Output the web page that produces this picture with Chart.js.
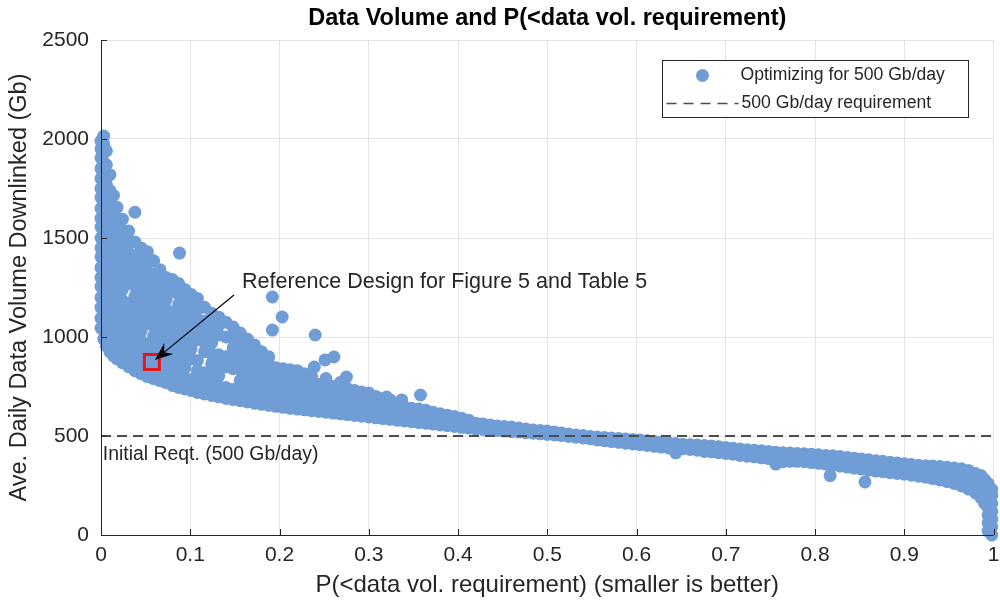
<!DOCTYPE html>
<html lang="en">
<head>
<meta charset="UTF-8">
<title>Data Volume and P(&lt;data vol. requirement)</title>
<style>
    html, body { margin: 0; padding: 0; background: #fff; }
</style>
</head>
<body>
<canvas id="myChart" width="1000" height="603"></canvas>

<script src="https://cdn.jsdelivr.net/npm/chart.js"></script>
<script>
// tick labels
const xTickLabels = ['0','0.1','0.2','0.3','0.4','0.5','0.6','0.7','0.8','0.9','1']
const yTickLabels = ['0','500','1000','1500','2000','2500']

// designs, one column of volumes per P value
const spikeCols = [
    [0.000,[1045,1095,1150,1200,1255,1300,1350,1405,1450,1500,1555,1600,1650,1705,1750,1800,1850,1905,1950,1990]],
    [0.003,[990,1040,1120,1180,1230,1290,1330,1380,1440,1490,1530,1580,1640,1690,1730,1780,1830,1880,1930,1975,2015]],
    [0.006,[955,1005,1060,1110,1170,1220,1270,1320,1370,1420,1470,1520,1570,1620,1675,1720,1770,1820,1870,1940]],
    [0.010,[925,980,1030,1090,1140,1190,1245,1290,1340,1395,1445,1490,1540,1590,1640,1690,1740,1820]],
    [0.014,[905,960,1010,1065,1115,1170,1215,1265,1320,1370,1420,1470,1515,1565,1610,1660,1715]],
    [0.018,[890,940,995,1045,1100,1150,1200,1250,1300,1350,1400,1455,1500,1550,1600,1655]]
]
const kneeCols = [
    [0.024,[870,925,975,1030,1080,1135,1185,1240,1290,1340,1390,1440,1490,1540,1595]],
    [0.031,[850,905,960,1010,1065,1115,1170,1275,1325,1375,1425,1475,1535]],
    [0.038,[830,885,940,995,1045,1100,1150,1205,1255,1305,1360,1410,1480]],
    [0.045,[815,870,925,980,1030,1085,1135,1185,1240,1290,1340,1395,1450]],
    [0.052,[800,855,910,965,1070,1120,1175,1225,1280,1330,1380,1430]],
    [0.059,[790,845,900,950,1005,1055,1110,1160,1215,1265,1320,1385]],
    [0.066,[780,835,885,940,990,1045,1095,1150,1200,1255,1300,1340]],
    [0.073,[770,825,875,930,980,1035,1085,1140,1190,1240,1300]],
    [0.080,[755,810,865,915,970,1020,1075,1125,1230,1290]],
    [0.087,[745,800,855,905,960,1010,1065,1115,1165,1215,1270]],
    [0.094,[738,790,845,900,950,1005,1055,1110,1160,1205,1240]],
    [0.101,[730,785,890,940,995,1045,1100,1150,1215]],
    [0.108,[720,775,830,880,985,1040,1090,1140,1195]],
    [0.116,[712,765,820,925,975,1030,1080,1150]],
    [0.124,[705,760,810,865,915,970,1020,1070,1120]],
    [0.132,[698,750,805,855,910,1010,1060,1100]],
    [0.140,[690,745,850,900,1000,1075]],
    [0.148,[684,735,840,890,945,995,1050]],
    [0.156,[678,730,780,835,885,935,985,1020]],
    [0.164,[672,725,775,825,875,930,990]],
    [0.172,[666,718,770,820,870,920,960]],
    [0.180,[660,712,765,815,865,925]],
    [0.188,[655,705,760,810,860,900]],
    [0.196,[650,700,750,800,845]]
]
const shoulderCols = [
    [0.204,[645,695,745,795,840]],
    [0.212,[640,690,740,790,835]],
    [0.220,[636,684,732,780,830]],
    [0.228,[632,680,728,775,815]],
    [0.236,[628,676,722,768,800]],
    [0.244,[624,670,716,760]],
    [0.252,[620,665,710,755,790]],
    [0.260,[616,660,705,750]],
    [0.268,[612,656,700,745,770]],
    [0.276,[608,652,696,740]],
    [0.284,[604,646,690,730]],
    [0.292,[600,642,684,722]],
    [0.300,[596,638,678,710]],
    [0.308,[592,634,672,700]],
    [0.316,[588,628,666,690]],
    [0.324,[584,624,660,682]],
    [0.332,[580,618,652]],
    [0.340,[576,612,646]],
    [0.348,[572,606,640]],
    [0.356,[568,600,636]]
]
const tailCols = [
    [0.364,[565,598,630]],[0.372,[560,590,620]],[0.380,[556,584,612]],[0.388,[552,578,605]],
    [0.396,[548,572,598]],[0.404,[544,566,590]],[0.412,[540,560,580]],[0.420,[536,565]],
    [0.428,[533,560]],[0.436,[530,555]],[0.444,[528,550]],[0.452,[525,548]],
    [0.460,[522,545]],[0.468,[520,540]],[0.476,[517,535]],[0.484,[514,530]],
    [0.492,[511,528]],[0.500,[508,525]],[0.508,[505,520]],[0.516,[502,515]],
    [0.524,[498,510]],[0.532,[494,505]],[0.540,[490,502]],[0.548,[486,498]],
    [0.556,[480,495]],[0.564,[476,492]],[0.572,[472,490]],[0.580,[468,488]],
    [0.588,[464,485]],[0.596,[460,482]],[0.604,[456,480]],[0.612,[452,476]],
    [0.620,[448,472]],[0.628,[444,468]],[0.636,[440,465]],[0.644,[415,445,462]],
    [0.652,[436,458]],[0.660,[432,456]],[0.668,[428,454]],[0.676,[422,452]],
    [0.684,[420,450]],[0.692,[416,446]],[0.700,[412,442]],[0.708,[408,438]],
    [0.716,[402,434]],[0.724,[398,430]],[0.732,[395,428]],[0.740,[390,425]],
    [0.748,[386,422]],[0.756,[358,388,418]],[0.764,[370,394,416]],[0.772,[372,393,414]],
    [0.780,[372,394,412]],[0.788,[370,390,410]],[0.796,[366,388,408]],[0.804,[362,384,405]],
    [0.812,[358,380,402]],[0.820,[352,378,400]],[0.828,[348,373,396]],[0.836,[343,369,392]],
    [0.844,[338,364,388]],[0.852,[333,360,384]],[0.860,[328,355,380]],[0.868,[323,350,375]],
    [0.876,[320,347,372]],[0.884,[315,343,368]],[0.892,[311,339,364]],[0.900,[307,335,360]],
    [0.908,[302,330,356]],[0.916,[297,326,352]],[0.924,[292,322,350]],[0.932,[285,318,348]],
    [0.940,[278,313,346]],[0.948,[270,307,342]],[0.956,[260,300,338]],[0.964,[248,292,334]],
    [0.972,[232,280,326]],[0.980,[212,262,310]],[0.986,[188,245,300]],[0.990,[160,210,250,280]],
    [0.994,[20,60,100,140,180,220,260]],[0.998,[0,40,80,120,160,200,230]]
]
const outliers = [
    [0.038,1630],[0.088,1424],[0.192,1202],[0.203,1101],[0.192,1035],[0.240,1010],
    [0.261,899],[0.251,884],[0.239,848],[0.275,798],[0.300,717],[0.320,697],
    [0.337,682],[0.358,707],[0.817,300],[0.856,268]
]

// 500 Gb/day requirement line
const reqP = [0, 1]
const reqVol = [500, 500]

// annotation anchors (data units)
const refDesign = [0.057, 874]
const arrowStart = [0.149, 1212]
const refLabelAt = [0.158, 1278]
const reqLabelAt = [0.002, 404]

const designs = []
spikeCols.concat(kneeCols, shoulderCols, tailCols).forEach(([p, vols]) => {
    vols.forEach(v => designs.push({x: p, y: v}))
})
outliers.forEach(([p, v]) => designs.push({x: p, y: v}))

const dotColor = 'rgb(112,157,214)'
const textColor = '#262626'
const fontFam = '"Liberation Sans", Arial, sans-serif'

const overlay = {
    id: 'overlay',
    afterDatasetsDraw(chart) {
        const {ctx, chartArea: a, scales: {x, y}} = chart
        ctx.save()
        // axis lines on top of the markers, ticks point inward
        ctx.strokeStyle = textColor
        ctx.lineWidth = 1
        ctx.beginPath()
        ctx.moveTo(a.left + 0.5, a.top)
        ctx.lineTo(a.left + 0.5, a.bottom + 0.5)
        ctx.lineTo(a.right, a.bottom + 0.5)
        x.ticks.forEach(t => {
            const px = Math.round(x.getPixelForValue(t.value)) + 0.5
            ctx.moveTo(px, a.bottom)
            ctx.lineTo(px, a.bottom - 6)
        })
        y.ticks.forEach(t => {
            const py = Math.round(y.getPixelForValue(t.value)) + 0.5
            ctx.moveTo(a.left, py)
            ctx.lineTo(a.left + 6, py)
        })
        ctx.stroke()

        // reference design marker
        const sx = x.getPixelForValue(refDesign[0])
        const sy = y.getPixelForValue(refDesign[1])
        ctx.strokeStyle = '#e8141b'
        ctx.lineWidth = 3
        ctx.strokeRect(sx - 7.5, sy - 7.5, 15, 15)

        // arrow
        const ax = x.getPixelForValue(arrowStart[0])
        const ay = y.getPixelForValue(arrowStart[1])
        const ex = sx + 3, ey = sy - 2
        const ang = Math.atan2(ey - ay, ex - ax)
        const c = Math.cos(ang), s = Math.sin(ang)
        ctx.strokeStyle = '#000'
        ctx.fillStyle = '#000'
        ctx.lineWidth = 1.2
        ctx.beginPath()
        ctx.moveTo(ax, ay)
        ctx.lineTo(ex - 10 * c, ey - 10 * s)
        ctx.stroke()
        ctx.beginPath()
        ctx.moveTo(ex, ey)
        ctx.lineTo(ex - 18 * c + 7 * s, ey - 18 * s - 7 * c)
        ctx.lineTo(ex - 12 * c, ey - 12 * s)
        ctx.lineTo(ex - 18 * c - 7 * s, ey - 18 * s + 7 * c)
        ctx.closePath()
        ctx.fill()

        // text annotations
        ctx.fillStyle = textColor
        ctx.textBaseline = 'middle'
        ctx.textAlign = 'left'
        ctx.font = '21.5px ' + fontFam
        ctx.fillText('Reference Design for Figure 5 and Table 5',
            x.getPixelForValue(refLabelAt[0]), y.getPixelForValue(refLabelAt[1]))
        ctx.font = '19.4px ' + fontFam
        ctx.fillText('Initial Reqt. (500 Gb/day)',
            x.getPixelForValue(reqLabelAt[0]), y.getPixelForValue(reqLabelAt[1]))

        // legend box
        const dsDots = chart.data.datasets[1], dsReq = chart.data.datasets[0]
        const lw = 306, lh = 57
        const lx = Math.round(a.right - lw - 26) + 0.5, ly = Math.round(a.top + 20) + 0.5
        ctx.fillStyle = '#fff'
        ctx.fillRect(lx, ly, lw, lh)
        ctx.strokeStyle = textColor
        ctx.lineWidth = 1
        ctx.strokeRect(lx, ly, lw, lh)
        ctx.fillStyle = dotColor
        ctx.beginPath()
        ctx.arc(lx + 40, ly + 15, 6.5, 0, Math.PI * 2)
        ctx.fill()
        ctx.strokeStyle = dsReq.borderColor
        ctx.lineWidth = 1.5
        ctx.setLineDash([10, 7])
        ctx.beginPath()
        ctx.moveTo(lx + 4, ly + 43)
        ctx.lineTo(lx + 76, ly + 43)
        ctx.stroke()
        ctx.setLineDash([])
        ctx.fillStyle = textColor
        ctx.font = '17.6px ' + fontFam
        ctx.fillText(dsDots.label, lx + 78, ly + 15)
        ctx.fillText(dsReq.label, lx + 79, ly + 43)
        ctx.restore()
    }
}

new Chart(document.getElementById('myChart'), {
    type: 'scatter',
    data: {
        datasets: [
            {
                type: 'line',
                label: '500 Gb/day requirement',
                data: reqP.map((p, i) => ({x: p, y: reqVol[i]})),
                borderColor: '#4d4d4d',
                borderWidth: 2,
                borderDash: [10, 6],
                pointRadius: 0,
                order: 0
            },
            {
                label: 'Optimizing for 500 Gb/day',
                data: designs,
                backgroundColor: dotColor,
                pointRadius: 6.5,
                borderWidth: 0,
                clip: false,
                order: 1
            }
        ]
    },
    options: {
        responsive: false,
        animation: false,
        events: [],
        layout: {padding: {left: 0, right: 2, top: 0, bottom: 0}},
        plugins: {
            legend: {display: false},
            tooltip: {enabled: false},
            title: {
                display: true,
                text: 'Data Volume and P(<data vol. requirement)',
                fullSize: false,
                color: '#000',
                font: {family: fontFam, size: 23.5, weight: 'bold', lineHeight: 1.2},
                padding: {top: 4, bottom: 7.8}
            }
        },
        scales: {
            x: {
                type: 'linear',
                min: 0, max: 1,
                ticks: {
                    stepSize: 0.1,
                    padding: 8,
                    color: textColor,
                    font: {family: fontFam, size: 21},
                    maxRotation: 0,
                    callback: (v, i) => xTickLabels[i]
                },
                grid: {color: '#e3e3e3', drawTicks: false},
                border: {display: false},
                title: {
                    display: true,
                    text: 'P(<data vol. requirement) (smaller is better)',
                    color: textColor,
                    font: {family: fontFam, size: 24},
                    padding: {top: 0, bottom: 3.6}
                },
                afterFit: s => { s.height = 68; s.paddingLeft = 0; s.paddingRight = 0 }
            },
            y: {
                min: 0, max: 2500,
                ticks: {
                    stepSize: 500,
                    padding: 12,
                    color: textColor,
                    font: {family: fontFam, size: 21},
                    callback: (v, i) => yTickLabels[i]
                },
                grid: {color: '#e3e3e3', drawTicks: false},
                border: {display: false},
                title: {
                    display: true,
                    text: 'Ave. Daily Data Volume Downlinked (Gb)',
                    color: textColor,
                    font: {family: fontFam, size: 23.5},
                    padding: {top: 5.6, bottom: 0}
                },
                afterFit: s => { s.width = 101 }
            }
        }
    },
    plugins: [overlay]
})
</script>
</body>
</html>
